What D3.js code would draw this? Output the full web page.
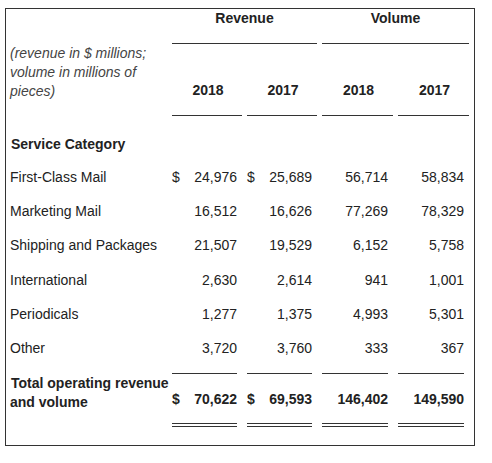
<!DOCTYPE html><html><head><script src="https://cdn.jsdelivr.net/npm/d3@7"></script>
<style>body{margin:0;background:#fff}text{font-family:"Liberation Sans",Arial,sans-serif;font-size:14px;fill:#222}</style></head><body>
<svg id="c" width="492" height="463"></svg>
<script>
const categories=["First-Class Mail","Marketing Mail","Shipping and Packages","International","Periodicals","Other"];
const revenue2018=[24976,16512,21507,2630,1277,3720];
const revenue2017=[25689,16626,19529,2614,1375,3760];
const volume2018=[56714,77269,6152,941,4993,333];
const volume2017=[58834,78329,5758,1001,5301,367];
const totals=[70622,69593,146402,149590];
const years=["2018","2017","2018","2017"];
const groups=["Revenue","Volume"];
const svg=d3.select("#c");
const fmt=d3.format(",");
svg.append("rect").attr("x",5.5).attr("y",8.5).attr("width",469).attr("height",437).attr("fill","none").attr("stroke","#333").attr("stroke-width",1);
const colR=[237,312,388,464];
const uL=[172,247,322,398], uR=[242,317,393,469];
[[172,317],[322,469]].forEach((g,i)=>{
 svg.append("text").attr("x",(g[0]+g[1])/2).attr("y",23).attr("text-anchor","middle").style("font-weight","bold").text(groups[i]);
 svg.append("line").attr("x1",g[0]).attr("x2",g[1]).attr("y1",43.5).attr("y2",43.5).attr("stroke","#333");
});
["(revenue in $ millions;","volume in millions of","pieces)"].forEach((t,i)=>svg.append("text").attr("x",10).attr("y",58+i*19).style("font-style","italic").style("fill","#444").text(t));
years.forEach((y,i)=>{
 svg.append("text").attr("x",(uL[i]+uR[i])/2+1).attr("y",95).attr("text-anchor","middle").style("font-weight","bold").text(y);
 svg.append("line").attr("x1",uL[i]).attr("x2",uR[i]).attr("y1",115.5).attr("y2",115.5).attr("stroke","#333");
});
svg.append("text").attr("x",11).attr("y",149).style("font-weight","bold").text("Service Category");
const y=d3.scaleBand().domain(categories).range([161,366]);
categories.forEach((c,i)=>{
 const yy=y(c)+y.bandwidth()/2+4;
 svg.append("text").attr("x",10).attr("y",yy).text(c);
 [revenue2018[i],revenue2017[i],volume2018[i],volume2017[i]].forEach((v,j)=>{
  svg.append("text").attr("x",colR[j]).attr("y",yy).attr("text-anchor","end").text(fmt(v));
 });
 if(i===0){svg.append("text").attr("x",172).attr("y",yy).text("$");svg.append("text").attr("x",247).attr("y",yy).text("$");}
});
uL.forEach((l,i)=>{
 svg.append("line").attr("x1",l).attr("x2",uR[i]-5).attr("y1",373.5).attr("y2",373.5).attr("stroke","#333");
 [423.5,426.5].forEach(yy=>svg.append("line").attr("x1",l).attr("x2",uR[i]-5).attr("y1",yy).attr("y2",yy).attr("stroke","#333"));
});
svg.append("text").attr("x",11).attr("y",388).style("font-weight","bold").text("Total operating revenue");
svg.append("text").attr("x",10).attr("y",407).style("font-weight","bold").text("and volume");
totals.forEach((v,j)=>svg.append("text").attr("x",colR[j]).attr("y",404).attr("text-anchor","end").style("font-weight","bold").text(fmt(v)));
[172,247].forEach(x=>svg.append("text").attr("x",x).attr("y",404).style("font-weight","bold").text("$"));
</script></body></html>
